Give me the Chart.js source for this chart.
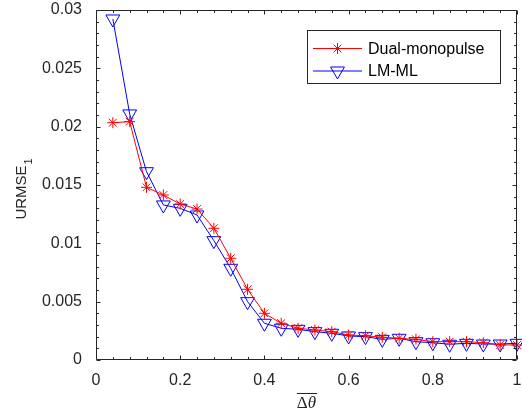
<!DOCTYPE html>
<html>
<head>
<meta charset="utf-8">
<title>URMSE vs delta theta</title>
<script src="https://cdn.jsdelivr.net/npm/chart.js@4.4.0/dist/chart.umd.min.js"></script>
<style>
  html, body { margin: 0; padding: 0; background: #fff; overflow: hidden; }
  #wrap { position: relative; width: 526px; height: 412px; }
</style>
</head>
<body>
<div id="wrap"><canvas id="myChart"></canvas></div>
<script>
// values
var deltaTheta = [0.04, 0.08, 0.12, 0.16, 0.20, 0.24, 0.28, 0.32, 0.36, 0.40, 0.44, 0.48, 0.52,
  0.56, 0.60, 0.64, 0.68, 0.72, 0.76, 0.80, 0.84, 0.88, 0.92, 0.96, 1.00];
var dualMonopulse = [0.02034, 0.02043, 0.01480, 0.01414, 0.01337, 0.01294, 0.01129, 0.00872, 0.00606,
  0.00400, 0.00315, 0.00272, 0.00257, 0.00243, 0.00214, 0.00208, 0.00195, 0.00186, 0.00177,
  0.00157, 0.00157, 0.00157, 0.00148, 0.00129, 0.00129];
var lmMl = [0.02923, 0.02109, 0.01614, 0.01329, 0.01300, 0.01243, 0.01023, 0.00786, 0.00500,
  0.00315, 0.00272, 0.00263, 0.00243, 0.00229, 0.00206, 0.00200, 0.00177, 0.00186, 0.00157,
  0.00148, 0.00135, 0.00143, 0.00137, 0.00137, 0.00143];
var xTicks = [0, 0.2, 0.4, 0.6, 0.8, 1];
var yTicks = [0, 0.005, 0.01, 0.015, 0.02, 0.025, 0.03];
var seriesNames = ["Dual-monopulse", "LM-ML"];

var axisColor = "#262626";
var sans = '"Liberation Sans", Arial, Helvetica, sans-serif';
var serif = '"Liberation Serif", "DejaVu Serif", serif';

function toPoints(ys) {
  return deltaTheta.map(function (x, i) {
    return { x: x, y: ys[i] };
  });
}

function shortLabel(v) {
  return String(+Number(v).toFixed(4));
}

// box, inward ticks, axis titles and legend, drawn the MATLAB way
var matlabAxes = {
  id: "matlabAxes",
  afterDatasetsDraw: function (chart) {
    var ctx = chart.ctx;
    var a = chart.chartArea;
    var xs = chart.scales.x;
    var ys = chart.scales.y;
    var L = Math.round(a.left) + 0.5, R = Math.round(a.right) - 0.5;
    var T = Math.round(a.top) + 0.5, B = Math.round(a.bottom) - 0.5;

    ctx.save();
    ctx.strokeStyle = axisColor;
    ctx.lineWidth = 1;
    ctx.beginPath();
    ctx.rect(L, T, R - L, B - T);

    var i, v, p, len;
    for (i = 0; i <= 25; i++) {
      v = i * 0.04;
      p = Math.round(xs.getPixelForValue(v)) + 0.5;
      len = i % 5 === 0 ? 4 : 2.5;
      ctx.moveTo(p, B); ctx.lineTo(p, B - len);
      ctx.moveTo(p, T); ctx.lineTo(p, T + len);
    }
    for (i = 0; i <= 30; i++) {
      v = i * 0.001;
      p = Math.round(ys.getPixelForValue(v)) + 0.5;
      len = i % 5 === 0 ? 4 : 2.5;
      ctx.moveTo(L, p); ctx.lineTo(L + len, p);
      ctx.moveTo(R, p); ctx.lineTo(R - len, p);
    }
    ctx.stroke();

    // y title: URMSE with subscript 1
    ctx.fillStyle = axisColor;
    ctx.save();
    ctx.translate(20, 189);
    ctx.rotate(-Math.PI / 2);
    ctx.textBaseline = "alphabetic";
    ctx.textAlign = "left";
    ctx.font = "15px " + sans;
    var wMain = ctx.measureText("URMSE").width;
    var start = -(wMain + 7) / 2;
    ctx.fillText("URMSE", start, 6);
    ctx.font = "11px " + sans;
    ctx.fillText("1", start + wMain + 1, 12);
    ctx.restore();

    // x title: overline delta theta
    var cx = (a.left + a.right) / 2;
    ctx.font = "17px " + serif;
    var wD = ctx.measureText("\u0394").width;
    ctx.font = "italic 17px " + serif;
    var wT = ctx.measureText("\u03b8").width;
    var x0 = cx - (wD + wT) / 2;
    ctx.textAlign = "left";
    ctx.textBaseline = "alphabetic";
    ctx.font = "17px " + serif;
    ctx.fillText("\u0394", x0, 408);
    ctx.font = "italic 17px " + serif;
    ctx.fillText("\u03b8", x0 + wD, 408);
    ctx.beginPath();
    ctx.moveTo(x0, 393.5);
    ctx.lineTo(x0 + wD + wT + 1, 393.5);
    ctx.stroke();

    // legend
    var bx = 307.5, by = 30.5, bw = 193, bh = 53;
    ctx.fillStyle = "#fff";
    ctx.fillRect(bx, by, bw, bh);
    ctx.strokeRect(bx, by, bw, bh);
    ctx.font = "16px " + sans;
    ctx.textBaseline = "middle";
    chart.data.datasets.forEach(function (ds, k) {
      var ly = 48.5 + k * 22.5;
      ctx.strokeStyle = ds.borderColor;
      ctx.lineWidth = 1;
      ctx.beginPath();
      ctx.moveTo(313, ly);
      ctx.lineTo(362, ly);
      ctx.stroke();
      ctx.fillStyle = "rgba(0,0,0,0)";
      Chart.helpers.drawPoint(ctx, {
        pointStyle: ds.pointStyle,
        radius: ds.pointRadius,
        rotation: ds.pointRotation || 0,
        borderWidth: 1
      }, 337.5, ly);
      ctx.fillStyle = "#000";
      ctx.fillText(ds.label, 368, ly + 1);
    });
    ctx.restore();
  }
};

var chart = new Chart(document.getElementById("myChart"), {
  type: "line",
  data: {
    datasets: [
      {
        label: seriesNames[0],
        data: toPoints(dualMonopulse),
        borderColor: "#ff0000",
        backgroundColor: "rgba(0,0,0,0)",
        borderWidth: 1,
        pointStyle: "star",
        pointRadius: 5.5,
        pointBorderWidth: 1,
        pointBorderColor: "#ff0000",
        pointBackgroundColor: "rgba(0,0,0,0)",
        tension: 0,
        clip: false
      },
      {
        label: seriesNames[1],
        data: toPoints(lmMl),
        borderColor: "#0000ff",
        backgroundColor: "rgba(0,0,0,0)",
        borderWidth: 1,
        pointStyle: "triangle",
        pointRotation: 180,
        pointRadius: 8,
        pointBorderWidth: 1,
        pointBorderColor: "#0000ff",
        pointBackgroundColor: "rgba(0,0,0,0)",
        tension: 0,
        clip: false
      }
    ]
  },
  options: {
    responsive: true,
    maintainAspectRatio: false,
    animation: false,
    events: [],
    layout: { padding: { left: 0, right: 6, top: 10, bottom: 0 } },
    plugins: {
      legend: { display: false },
      tooltip: { enabled: false }
    },
    scales: {
      x: {
        type: "linear",
        min: 0,
        max: 1,
        afterBuildTicks: function (scale) {
          scale.ticks = xTicks.map(function (v) { return { value: v }; });
        },
        afterFit: function (scale) {
          scale.height = 52;
          scale.paddingLeft = 0;
          scale.paddingRight = 0;
        },
        grid: { display: false, drawTicks: false },
        border: { display: false },
        ticks: { color: axisColor, font: { size: 16, family: sans }, padding: 11, maxRotation: 0,
          callback: shortLabel }
      },
      y: {
        type: "linear",
        min: 0,
        max: 0.03,
        afterBuildTicks: function (scale) {
          scale.ticks = yTicks.map(function (v) { return { value: v }; });
        },
        afterFit: function (scale) {
          scale.width = 96;
          scale.paddingTop = 0;
          scale.paddingBottom = 0;
        },
        grid: { display: false, drawTicks: false },
        border: { display: false },
        ticks: { color: axisColor, font: { size: 16, family: sans }, padding: 14, callback: shortLabel }
      }
    }
  },
  plugins: [matlabAxes]
});
</script>
</body>
</html>
